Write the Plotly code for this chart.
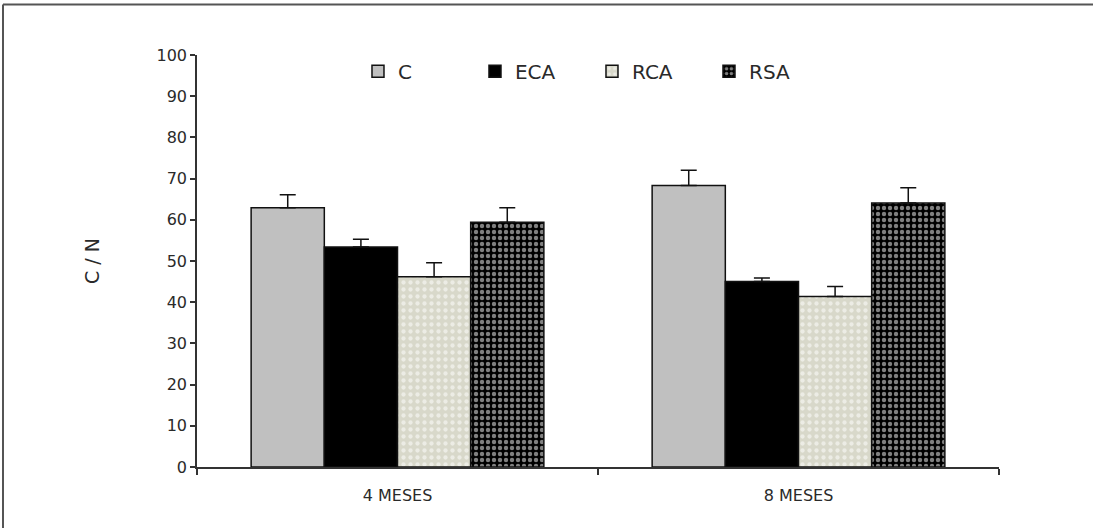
import plotly.graph_objects as go

categories = ["4 MESES", "8 MESES"]
series_names = ["C", "ECA", "RCA", "RSA"]
values_C = [62.9, 68.3]
values_ECA = [53.4, 45.0]
values_RCA = [46.2, 41.4]
values_RSA = [59.4, 64.1]
err_C = [3.2, 3.7]
err_ECA = [1.9, 0.9]
err_RCA = [3.4, 2.4]
err_RSA = [3.5, 3.7]
y_ticks = [0, 10, 20, 30, 40, 50, 60, 70, 80, 90, 100]

styles = {
    "C": dict(color="#c0c0c0", pattern=None),
    "ECA": dict(color="#000000", pattern=None),
    "RCA": dict(color="#dcdccf", pattern=dict(shape=".", fgcolor="#ffffff", bgcolor="#d8d8ca", size=7, solidity=0.3)),
    "RSA": dict(color="#000000", pattern=dict(shape=".", fgcolor="#ffffff", bgcolor="#000000", size=6, solidity=0.42)),
}

data = {"C": (values_C, err_C), "ECA": (values_ECA, err_ECA),
        "RCA": (values_RCA, err_RCA), "RSA": (values_RSA, err_RSA)}

fig = go.Figure()
for name in series_names:
    vals, errs = data[name]
    st = styles[name]
    marker = dict(color=st["color"], line=dict(color="#111111", width=1.5))
    if st["pattern"]:
        marker["pattern"] = st["pattern"]
    fig.add_trace(go.Bar(
        x=categories, y=vals, name=name, marker=marker,
        error_y=dict(type="data", symmetric=False, array=errs, arrayminus=[0] * len(errs),
                     color="#111111", thickness=1.5, width=8),
    ))

font_family = "DejaVu Sans, Liberation Sans, Arial, sans-serif"
text_color = "#2a2a2a"
fig.update_layout(
    width=1093, height=528,
    margin=dict(l=197, r=94, t=55, b=61),
    paper_bgcolor="white", plot_bgcolor="white",
    barmode="group", bargap=0.27, bargroupgap=0,
    font=dict(family=font_family, color=text_color),
    showlegend=True,
    legend=dict(orientation="h", x=0.4925, xanchor="center", y=1.008, yanchor="top",
                font=dict(size=20, color=text_color), bgcolor="rgba(0,0,0,0)",
                itemwidth=30, tracegroupgap=0, entrywidth=72, entrywidthmode="pixels"),
    xaxis=dict(showline=True, linecolor="#333333", linewidth=1.5, ticks="outside",
               tickson="boundaries", ticklen=6, tickcolor="#333333", tickwidth=1.5,
               ticklabelstandoff=13,
               tickfont=dict(size=16, color=text_color), showgrid=False, zeroline=False),
    yaxis=dict(range=[0, 100], tickvals=y_ticks, showline=True, linecolor="#333333", linewidth=1.5,
               ticks="outside", ticklen=5, tickcolor="#333333", tickwidth=1.5,
               tickfont=dict(size=16, color=text_color), showgrid=False, zeroline=False,
               title=dict(text="C / N", font=dict(size=19, color=text_color), standoff=52)),
    shapes=[
        dict(type="line", xref="paper", yref="paper", x0=-0.2419, x1=1.2, y0=1.1227, y1=1.1227,
             line=dict(color="#555555", width=2)),
        dict(type="line", xref="paper", yref="paper", x0=-0.2419, x1=-0.2419, y0=1.1227, y1=-0.2,
             line=dict(color="#555555", width=2)),
    ],
)

fig.write_html("out.html")
